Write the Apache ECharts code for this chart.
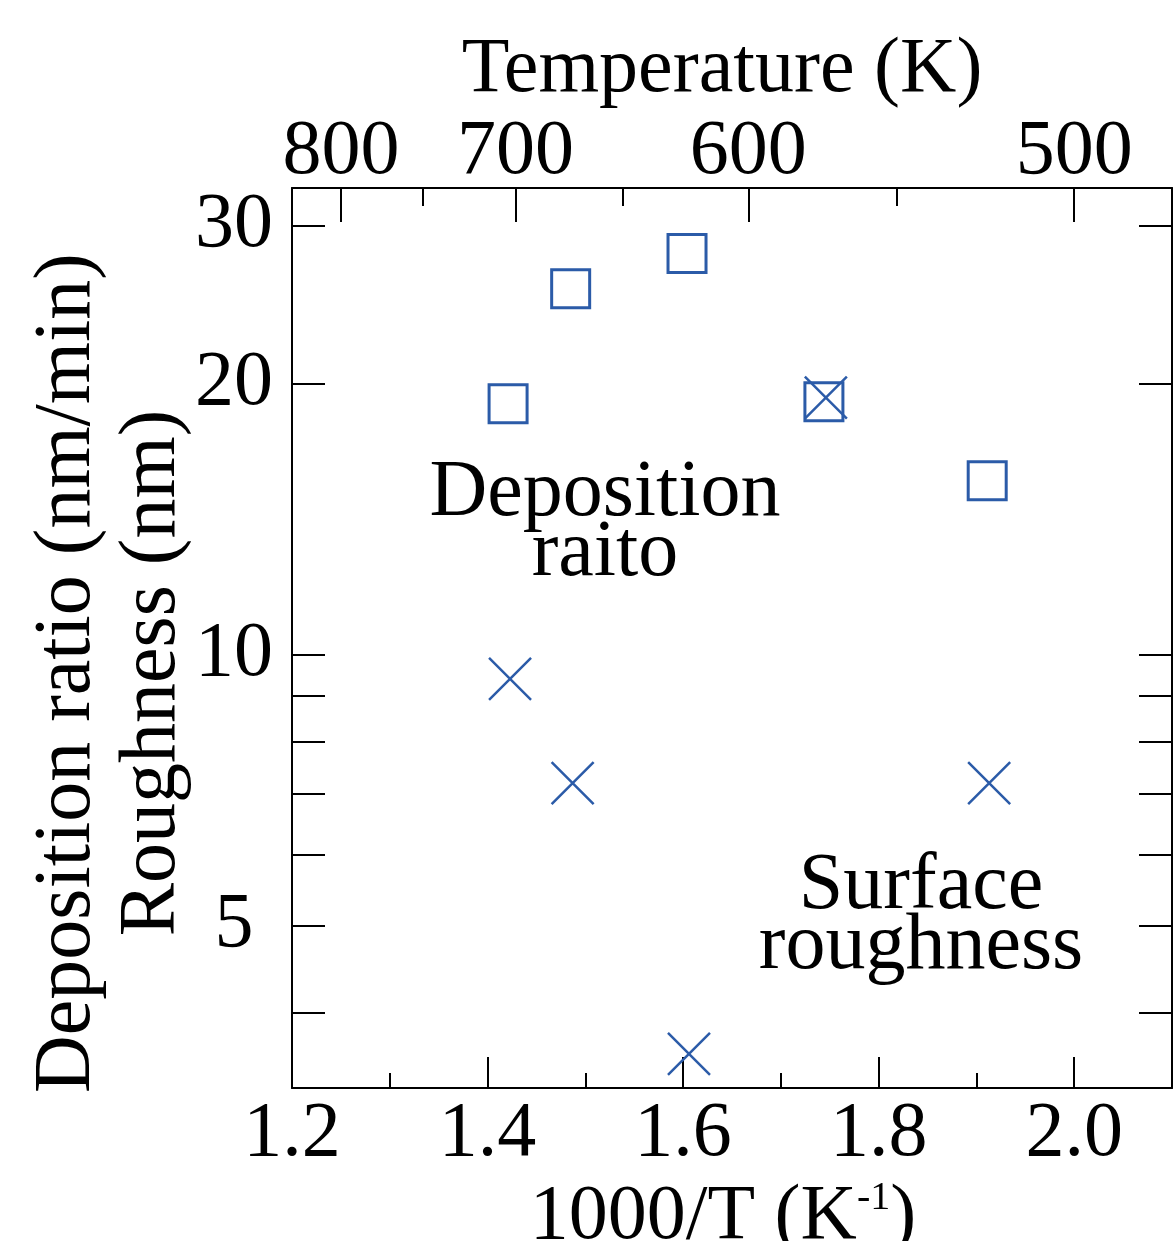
<!DOCTYPE html>
<html>
<head>
<meta charset="utf-8">
<script src="https://cdn.jsdelivr.net/npm/echarts@6/dist/echarts.min.js"></script>
<style>
html,body{margin:0;padding:0;background:#fff;}
#chart{width:1176px;height:1241px;}
</style>
</head>
<body>
<div id="chart"></div>
<script>
// ---- data ----
var depositionX = [1.421, 1.485, 1.604, 1.744, 1.911];
var depositionY = [19.0, 25.5, 27.9, 19.1, 15.6];
var roughnessX = [1.423, 1.487, 1.606, 1.746, 1.913];
var roughnessY = [9.4, 7.2, 3.6, 19.3, 7.2];

var xMajorTicks = [1.2, 1.4, 1.6, 1.8, 2.0];
var xMinorTicks = [1.3, 1.5, 1.7, 1.9];
var tempMajorTicks = [800, 700, 600, 500];
var tempMinorTicks = [750, 650, 550];
var yTicks = [4, 5, 6, 7, 8, 9, 10, 20, 30];
var yLabels = [5, 10, 20, 30];

var FONT = 'Liberation Serif';
var BLUE = '#2b5ba8';
var AX = { lineStyle: { color: '#000', width: 2 } };

function pairs(xs, ys) { return xs.map(function (x, i) { return [x, ys[i]]; }); }
function inv(ts) { return ts.map(function (t) { return 1000 / t; }); }

var chart = echarts.init(document.getElementById('chart'), null, { renderer: 'canvas' });
chart.setOption({
  animation: false,
  backgroundColor: '#fff',
  grid: { left: 292, right: 4, top: 188, bottom: 153, containLabel: false, outerBoundsMode: 'none' },
  xAxis: [
    {
      type: 'value', position: 'bottom', min: 1.2, max: 2.1,
      axisLine: { show: true, lineStyle: AX.lineStyle },
      axisTick: { show: true, inside: true, length: 31, lineStyle: AX.lineStyle, customValues: xMajorTicks },
      axisLabel: { show: true, customValues: xMajorTicks, margin: 8, color: '#000', fontFamily: FONT, fontSize: 78,
        formatter: function (v) { return v.toFixed(1); } },
      splitLine: { show: false },
      name: '{a|1000/T (K}{s|-1}{a|)}',
      nameLocation: 'middle', nameGap: 82,
      nameTextStyle: {
        padding: [0, 18, 0, 0],
        rich: {
          a: { fontFamily: FONT, fontSize: 78, color: '#000', lineHeight: 78 },
          s: { fontFamily: FONT, fontSize: 40, color: '#000', verticalAlign: 'top', lineHeight: 40 }
        }
      }
    },
    {
      type: 'value', position: 'bottom', min: 1.2, max: 2.1,
      axisLine: { show: false },
      axisTick: { show: true, inside: true, length: 15, lineStyle: AX.lineStyle, customValues: xMinorTicks },
      axisLabel: { show: false },
      splitLine: { show: false }
    },
    {
      type: 'value', position: 'top', min: 1.2, max: 2.1,
      axisLine: { show: true, lineStyle: AX.lineStyle },
      axisTick: { show: true, inside: true, length: 34, lineStyle: AX.lineStyle, customValues: inv(tempMajorTicks) },
      axisLabel: { show: true, customValues: inv(tempMajorTicks), margin: -4, color: '#000', fontFamily: FONT, fontSize: 78,
        formatter: function (v) { return String(Math.round(1000 / v)); } },
      splitLine: { show: false },
      name: 'Temperature (K)',
      nameLocation: 'middle', nameGap: 72,
      nameTextStyle: { fontFamily: FONT, fontSize: 78, color: '#000', padding: [0, 20, 0, 0] }
    },
    {
      type: 'value', position: 'top', min: 1.2, max: 2.1,
      axisLine: { show: false },
      axisTick: { show: true, inside: true, length: 18, lineStyle: AX.lineStyle, customValues: inv(tempMinorTicks) },
      axisLabel: { show: false },
      splitLine: { show: false }
    }
  ],
  yAxis: [
    {
      type: 'log', position: 'left', min: 3.3, max: 33, logBase: 10,
      axisLine: { show: true, lineStyle: AX.lineStyle },
      axisTick: { show: true, inside: true, length: 33, lineStyle: AX.lineStyle, customValues: yTicks },
      axisLabel: { show: true, customValues: yLabels, margin: 58, align: 'center', color: '#000', fontFamily: FONT, fontSize: 78 },
      splitLine: { show: false },
      minorTick: { show: false }
    },
    {
      type: 'log', position: 'right', min: 3.3, max: 33, logBase: 10,
      axisLine: { show: true, lineStyle: AX.lineStyle },
      axisTick: { show: true, inside: true, length: 33, lineStyle: AX.lineStyle, customValues: yTicks },
      axisLabel: { show: false },
      splitLine: { show: false }
    }
  ],
  series: [
    {
      name: 'Deposition raito', type: 'scatter', xAxisIndex: 0, yAxisIndex: 0,
      data: pairs(depositionX, depositionY),
      symbol: 'rect', symbolSize: 38,
      itemStyle: { color: 'rgba(0,0,0,0)', borderColor: BLUE, borderWidth: 3, opacity: 1 },
      emphasis: { disabled: true }
    },
    {
      name: 'Surface roughness', type: 'scatter', xAxisIndex: 0, yAxisIndex: 0,
      data: pairs(roughnessX, roughnessY),
      symbol: 'path://M0,0L10,10M10,0L0,10', symbolSize: 42,
      itemStyle: { color: 'rgba(0,0,0,0)', borderColor: BLUE, borderWidth: 2.5, opacity: 1 },
      emphasis: { disabled: true }
    }
  ],
  graphic: [
    {
      type: 'text', x: 110, y: 673, rotation: Math.PI / 2,
      style: { text: 'Deposition ratio (nm/min)\nRoughness (nm)', fontFamily: FONT, fontSize: 80, lineHeight: 85,
        fill: '#000', align: 'center', verticalAlign: 'middle' }
    },
    {
      type: 'text', x: 605, y: 524,
      style: { text: 'Deposition\nraito', fontFamily: FONT, fontSize: 80, lineHeight: 60,
        fill: '#000', align: 'center', verticalAlign: 'middle' }
    },
    {
      type: 'text', x: 921, y: 917,
      style: { text: 'Surface\nroughness', fontFamily: FONT, fontSize: 80, lineHeight: 60,
        fill: '#000', align: 'center', verticalAlign: 'middle' }
    }
  ]
});
</script>
</body>
</html>
